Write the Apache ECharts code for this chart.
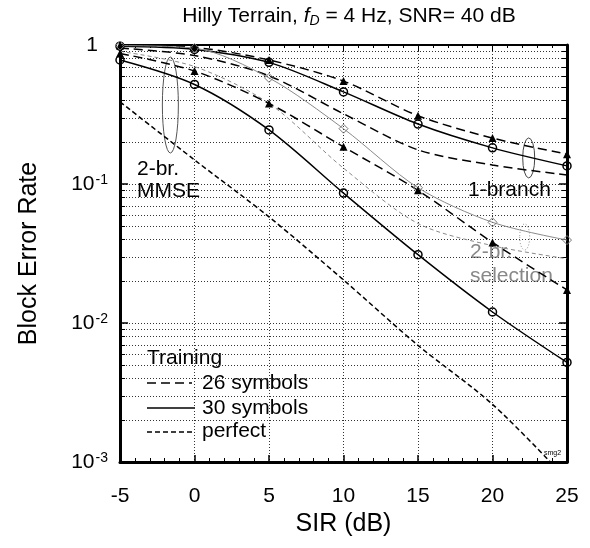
<!DOCTYPE html>
<html><head><meta charset="utf-8">
<script src="https://cdn.jsdelivr.net/npm/echarts@6/dist/echarts.min.js"></script>
<style>html,body{margin:0;padding:0;background:#fff}#c{width:590px;height:548px}</style>
</head><body><div id="c"></div>
<script>
// ---- data ----
const sir = [-5, 0, 5, 10, 15, 20, 25];
const oneBranch26 = [0.99, 0.96, 0.78, 0.55, 0.31, 0.214, 0.164];
const oneBranch30 = [0.98, 0.93, 0.75, 0.46, 0.27, 0.182, 0.135];
const oneBranchPerfect = [0.95, 0.84, 0.6, 0.32, 0.176, 0.137, 0.116];
const selection30 = [0.99, 0.95, 0.58, 0.25, 0.094, 0.053, 0.0395];
const selectionPerfect = [0.9, 0.7, 0.38, 0.13, 0.052, 0.036, 0.029];
const mmse26 = [0.87, 0.65, 0.38, 0.185, 0.09, 0.038, 0.0173];
const mmse30 = [0.78, 0.52, 0.245, 0.086, 0.031, 0.012, 0.0052];
const mmsePerfect = [0.39, 0.149, 0.058, 0.0204, 0.0069, 0.0026, 0.00075];
const xTickValues = [-5, 0, 5, 10, 15, 20, 25];
const yDecades = [0.001, 0.01, 0.1, 1];
const yMinorTicks = [];
[0.001, 0.01, 0.1].forEach(d => { for (let k = 2; k <= 9; k++) yMinorTicks.push(+(d * k).toPrecision(3)); });

const FONT = '"Liberation Sans", Arial, Helvetica, sans-serif';
const pts = arr => sir.map((x, i) => [x, arr[i]]);

function lineSeries(name, arr, o) {
  return Object.assign({
    name, type: 'line', data: pts(arr), smooth: 0.3, clip: true,
    symbol: 'none', symbolSize: 8, z: 5,
    lineStyle: { color: '#000', width: 1.5, type: 'solid' },
    itemStyle: { color: '#000' }
  }, o);
}

const chart = echarts.init(document.getElementById('c'), null, { renderer: 'canvas' });

const ellipses = [
  { x: -1.62, y: 0.37, rx: 8, ry: 48, color: '#555', dash: null },
  { x: 22.43, y: 0.154, rx: 6, ry: 20, color: '#444', dash: null },
  { x: 22.16, y: 0.0416, rx: 5, ry: 13, color: '#888', dash: [1, 2] }
];

const option = {
  backgroundColor: '#fff',
  animation: false,
  grid: { left: 120, top: 45, width: 447, height: 417, containLabel: false },
  xAxis: [{
    type: 'value', min: -5, max: 25, interval: 5,
    axisLine: { show: true, lineStyle: { color: '#000', width: 3 } },
    axisTick: { show: true, inside: true, length: 7, lineStyle: { color: '#000', width: 1.5 } },
    minorTick: { show: true, splitNumber: 5, length: 4, lineStyle: { color: '#000', width: 1 } },
    axisLabel: { color: '#000', fontSize: 21, fontFamily: FONT, margin: 24,
      formatter: v => xTickValues.includes(v) ? String(v) : '' },
    splitLine: { show: true, lineStyle: { color: '#333', width: 1, type: [1, 2] } },
    name: 'SIR (dB)', nameLocation: 'middle', nameGap: 50,
    nameTextStyle: { color: '#000', fontSize: 25, fontFamily: FONT }
  }, {
    type: 'value', position: 'top', min: -5, max: 25, interval: 5,
    axisLine: { show: true, onZero: false, lineStyle: { color: '#000', width: 2 } },
    axisTick: { show: true, inside: true, length: 6, lineStyle: { color: '#000', width: 1 } },
    minorTick: { show: true, splitNumber: 5, length: 3, lineStyle: { color: '#000', width: 1 } },
    axisLabel: { show: false }, splitLine: { show: false }
  }],
  yAxis: [{
    type: 'log', logBase: 10, min: 0.001, max: 1,
    axisLine: { show: true, onZero: false, lineStyle: { color: '#000', width: 3 } },
    axisTick: { show: true, inside: true, length: 8, lineStyle: { color: '#000', width: 1.5 } },
    axisLabel: {
      color: '#000', fontFamily: FONT, margin: 12,
      formatter: v => {
        const e = Math.round(Math.log10(v));
        return e === 0 ? '{one|1}' : '{b|10}{sup|' + e + '}';
      },
      rich: {
        one: { fontSize: 21, fontFamily: FONT, color: '#000', padding: [0, 10, 0, 0] },
        b: { fontSize: 21, fontFamily: FONT, color: '#000', verticalAlign: 'bottom', lineHeight: 22 },
        sup: { fontSize: 14, fontFamily: FONT, color: '#000', verticalAlign: 'top', lineHeight: 14, padding: [0, 0, 10, 1] }
      }
    },
    splitLine: { show: true, lineStyle: { color: '#333', width: 1, type: [1, 2] } },
    name: 'Block Error Rate', nameLocation: 'middle', nameGap: 78, nameRotate: 90,
    nameTextStyle: { color: '#000', fontSize: 25, fontFamily: FONT }
  }, {
    type: 'log', logBase: 10, min: 0.001, max: 1, position: 'right',
    axisLine: { show: true, onZero: false, lineStyle: { color: '#000', width: 3 } },
    axisTick: { show: true, inside: true, length: 8, lineStyle: { color: '#000', width: 1.5 } },
    axisLabel: { show: false }, splitLine: { show: false }
  }],
  series: [
    {
      type: 'custom', name: 'minorGrid', coordinateSystem: 'cartesian2d', silent: true, z: 1,
      xAxisIndex: 0, yAxisIndex: 0,
      data: yMinorTicks.map(v => [-5, v]),
      encode: { x: 0, y: 1 },
      renderItem: (params, api) => {
        const v = api.value(1);
        const p1 = api.coord([-5, v]);
        const p2 = api.coord([25, v]);
        const y = Math.round(p1[1]) + 0.5;
        return {
          type: 'group', children: [
            { type: 'line', shape: { x1: p1[0], y1: y, x2: p2[0], y2: y }, style: { stroke: '#333', lineWidth: 1, lineDash: [1, 2] } },
            { type: 'line', shape: { x1: p1[0], y1: y, x2: p1[0] + 5, y2: y }, style: { stroke: '#000', lineWidth: 1 } },
            { type: 'line', shape: { x1: p2[0] - 5, y1: y, x2: p2[0], y2: y }, style: { stroke: '#000', lineWidth: 1 } }
          ]
        };
      }
    },
    {
      type: 'custom', name: 'ellipses', coordinateSystem: 'cartesian2d', silent: true, z: 4,
      data: ellipses.map(e => [e.x, e.y]),
      encode: { x: 0, y: 1 },
      renderItem: (params, api) => {
        const e = ellipses[params.dataIndex];
        const c = api.coord([api.value(0), api.value(1)]);
        const cx = c[0], cy = c[1];
        const d = `M ${cx - e.rx} ${cy} A ${e.rx} ${e.ry} 0 1 0 ${cx + e.rx} ${cy} A ${e.rx} ${e.ry} 0 1 0 ${cx - e.rx} ${cy} Z`;
        return { type: 'path', shape: { pathData: d }, style: { fill: 'none', stroke: e.color, lineWidth: 1, lineDash: e.dash } };
      }
    },
    lineSeries('1-branch 26', oneBranch26, { symbol: 'triangle', lineStyle: { color: '#000', width: 1.5, type: [9, 5] } }),
    lineSeries('1-branch 30', oneBranch30, { symbol: 'circle', itemStyle: { color: 'rgba(0,0,0,0)', borderColor: '#000', borderWidth: 1.5 } }),
    lineSeries('1-branch perfect', oneBranchPerfect, { lineStyle: { color: '#000', width: 1.5, type: [9, 5] } }),
    lineSeries('selection 30', selection30, { symbol: 'diamond', symbolSize: 9, lineStyle: { color: '#8a8a8a', width: 1, type: 'solid' }, itemStyle: { color: 'rgba(0,0,0,0)', borderColor: '#777', borderWidth: 1 } }),
    lineSeries('selection perfect', selectionPerfect, { lineStyle: { color: '#8a8a8a', width: 1, type: [4, 3] } }),
    lineSeries('MMSE 26', mmse26, { symbol: 'triangle', lineStyle: { color: '#000', width: 1.5, type: [9, 5] } }),
    lineSeries('MMSE 30', mmse30, { symbol: 'circle', itemStyle: { color: 'rgba(0,0,0,0)', borderColor: '#000', borderWidth: 1.5 } }),
    lineSeries('MMSE perfect', mmsePerfect, { lineStyle: { color: '#000', width: 1.5, type: [5, 3] } })
  ],
  graphic: [
    { type: 'text', x: 349, y: 16, style: {
        text: 'Hilly Terrain, {i|f}{s|D} = 4 Hz, SNR= 40 dB', align: 'center', verticalAlign: 'middle',
        fontSize: 21, fontFamily: FONT, fill: '#000',
        rich: { i: { fontStyle: 'italic', fontSize: 21, fontFamily: FONT }, s: { fontStyle: 'italic', fontSize: 14, fontFamily: FONT, verticalAlign: 'bottom', padding: [10, 0, 0, 0] } }
    } },
    { type: 'text', x: 137, y: 158, style: { text: '2-br.\nMMSE', fontSize: 21, lineHeight: 22, fontFamily: FONT, fill: '#000' } },
    { type: 'text', x: 468, y: 180, style: { text: '1-branch', fontSize: 21, fontFamily: FONT, fill: '#000' } },
    { type: 'text', x: 470, y: 240, style: { text: '2-br.\nselection', fontSize: 21, lineHeight: 24, fontFamily: FONT, fill: '#888' } },
    { type: 'text', x: 147, y: 348, style: { text: 'Training', fontSize: 21, fontFamily: FONT, fill: '#000' } },
    { type: 'line', shape: { x1: 147, y1: 383, x2: 192, y2: 383 }, style: { stroke: '#000', lineWidth: 1.5, lineDash: [9, 5] } },
    { type: 'text', x: 202, y: 373, style: { text: '26 symbols', fontSize: 21, fontFamily: FONT, fill: '#000' } },
    { type: 'line', shape: { x1: 147, y1: 408, x2: 195, y2: 408 }, style: { stroke: '#000', lineWidth: 1.5 } },
    { type: 'text', x: 202, y: 398, style: { text: '30 symbols', fontSize: 21, fontFamily: FONT, fill: '#000' } },
    { type: 'line', shape: { x1: 147, y1: 432, x2: 192, y2: 432 }, style: { stroke: '#000', lineWidth: 1.5, lineDash: [5, 3] } },
    { type: 'text', x: 202, y: 421, style: { text: 'perfect', fontSize: 21, fontFamily: FONT, fill: '#000' } },
    { type: 'text', x: 544, y: 450, style: { text: 'smg2', fontSize: 7, fontFamily: FONT, fill: '#000' } }
  ]
};
chart.setOption(option);
</script></body></html>
